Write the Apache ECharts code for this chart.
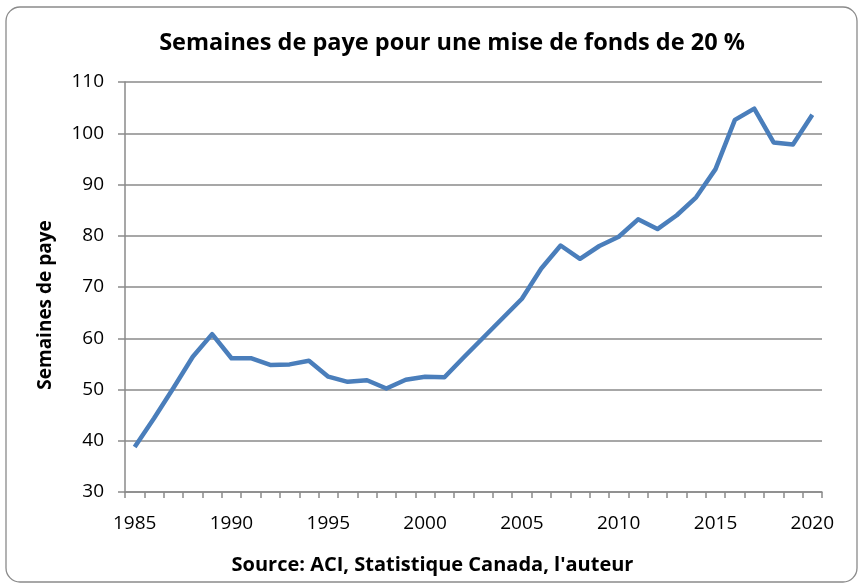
<!DOCTYPE html>
<html><head><meta charset="utf-8">
<script src="https://cdn.jsdelivr.net/npm/echarts@6/dist/echarts.min.js"></script>
<style>html,body{margin:0;padding:0;background:#fff}#c{width:863px;height:585px}</style>
</head><body><div id="c"></div>
<script>
const years = [];
for (let y = 1985; y <= 2020; y++) years.push(String(y));
const weeks = [38.8, 44.4, 50.3, 56.4, 60.8, 56.1, 56.1, 54.8, 54.9, 55.6,
  52.5, 51.5, 51.8, 50.2, 51.9, 52.5, 52.4, 56.3, 60.1, 63.9,
  67.7, 73.6, 78.1, 75.5, 78.0, 79.8, 83.2, 81.3, 84.0, 87.5,
  93.0, 102.6, 104.8, 98.2, 97.8, 103.6];
const titleText = 'Semaines de paye pour une mise de fonds de 20 %';
const yName = 'Semaines de paye';
const xName = "Source: ACI, Statistique Canada, l'auteur";
const FONT = '"Open Sans", Lato, sans-serif';

const chart = echarts.init(document.getElementById('c'), null, {renderer: 'canvas'});
chart.setOption({
  animation: false,
  backgroundColor: '#fff',
  title: {
    text: titleText, left: 447, textAlign: 'center', top: 26,
    textStyle: {fontFamily: FONT, fontWeight: 'bold', fontSize: 23.5, color: '#000'}
  },
  graphic: [{
    type: 'rect', shape: {x: 6, y: 7, width: 851, height: 575, r: 14},
    style: {fill: 'none', stroke: '#8a8a8a', lineWidth: 1.3}, z: -1
  }],
  grid: {left: 125, right: 41, top: 82, bottom: 93},
  xAxis: {
    type: 'category', data: years, boundaryGap: true,
    name: xName, nameLocation: 'middle', nameGap: 63,
    nameTextStyle: {fontFamily: FONT, fontWeight: 'bold', fontSize: 20, color: '#000', padding: [0, 82, 0, 0]},
    axisLine: {lineStyle: {color: '#8a8a8a', width: 1.5}},
    axisTick: {show: true, interval: 0, length: 6, lineStyle: {color: '#8a8a8a', width: 1.5}},
    axisLabel: {interval: (i) => i % 5 === 0, fontFamily: FONT, fontSize: 19, color: '#000', margin: 22},
    splitLine: {show: false}
  },
  yAxis: {
    type: 'value', min: 30, max: 110, interval: 10,
    name: yName, nameLocation: 'middle', nameGap: 70, nameRotate: 90,
    nameTextStyle: {fontFamily: FONT, fontWeight: 'bold', fontSize: 19, color: '#000', padding: [0, 36, 0, 0]},
    axisLine: {show: true, lineStyle: {color: '#8a8a8a', width: 1.5}},
    axisTick: {show: true, length: 7, lineStyle: {color: '#8a8a8a', width: 1.5}},
    axisLabel: {fontFamily: FONT, fontSize: 19, color: '#000', margin: 21},
    splitLine: {show: true, lineStyle: {color: '#8a8a8a', width: 1.5}}
  },
  series: [{
    type: 'line', data: weeks, showSymbol: false, symbol: 'none',
    lineStyle: {color: '#4a7ebb', width: 4.5, join: 'round'}
  }]
});
</script></body></html>
